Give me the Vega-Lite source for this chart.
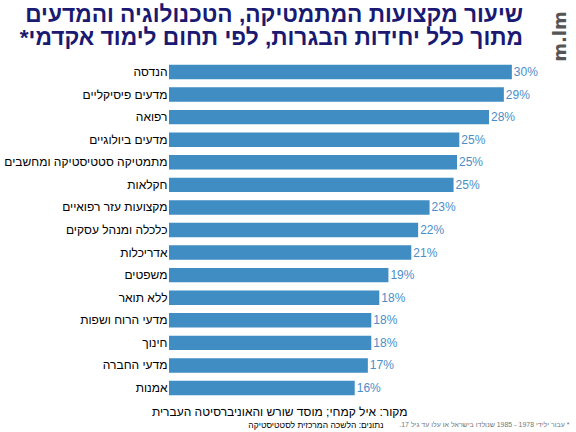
{
  "$schema": "https://vega.github.io/schema/vega-lite/v6.json",
  "autosize": "none",
  "padding": {"left": 169, "top": 60.7, "right": 7, "bottom": 32.7},
  "width": 400,
  "height": 338.6,
  "background": "white",
  "title": {
    "text": ["שיעור מקצועות המתמטיקה, הטכנולוגיה והמדעים", "מתוך כלל יחידות הבגרות, לפי תחום לימוד אקדמי*\u200f"],
    "anchor": "end",
    "frame": "group",
    "font": "Liberation Sans",
    "fontSize": 22.7,
    "fontWeight": "bold",
    "color": "#1a1a72",
    "lineHeight": 23.5,
    "dx": -46,
    "dy": 47,
    "offset": 8
  },
  "data": {
    "values": [
      {"field": "הנדסה", "pct": 0.300},
      {"field": "מדעים פיסיקליים", "pct": 0.293},
      {"field": "רפואה", "pct": 0.280},
      {"field": "מדעים ביולוגיים", "pct": 0.254},
      {"field": "מתמטיקה סטטיסטיקה ומחשבים", "pct": 0.252},
      {"field": "חקלאות", "pct": 0.249},
      {"field": "מקצועות עזר רפואיים", "pct": 0.228},
      {"field": "כלכלה ומנהל עסקים", "pct": 0.218},
      {"field": "אדריכלות", "pct": 0.212},
      {"field": "משפטים", "pct": 0.192},
      {"field": "ללא תואר", "pct": 0.184},
      {"field": "מדעי הרוח ושפות", "pct": 0.177},
      {"field": "חינוך", "pct": 0.177},
      {"field": "מדעי החברה", "pct": 0.174},
      {"field": "אמנות", "pct": 0.1625}
    ]
  },
  "encoding": {
    "y": {
      "field": "field",
      "type": "nominal",
      "sort": null,
      "scale": {"paddingInner": 0.36, "paddingOuter": 0.18}
    },
    "x": {
      "field": "pct",
      "type": "quantitative",
      "scale": {"domain": [0, 0.35], "nice": false, "zero": true}
    }
  },
  "layer": [
    {
      "mark": {"type": "bar", "color": "#3f8dc3"},
      "encoding": {
        "y": {
          "field": "field",
          "type": "nominal",
          "sort": null,
          "axis": {
            "orient": "left",
            "domain": false,
            "ticks": false,
            "grid": false,
            "labelPadding": 2,
            "labelFont": "Liberation Sans",
            "labelFontSize": 12,
            "labelColor": "#000000",
            "labelLimit": 300,
            "title": "\u200f* עבור ילידי 1978 - 1985 שנולדו בישראל או עלו עד גיל 17.\u200f",
            "titleAngle": 0,
            "titleAlign": "right",
            "titleBaseline": "alphabetic",
            "titleX": 400,
            "titleY": 365.3,
            "titleFont": "Liberation Sans",
            "titleFontSize": 7,
            "titleFontWeight": "normal",
            "titleColor": "#777777"
          }
        },
        "x": {
          "field": "pct",
          "type": "quantitative",
          "axis": {
            "orient": "bottom",
            "domain": false,
            "ticks": false,
            "labels": false,
            "grid": false,
            "title": "מקור: איל קמחי; מוסד שורש והאוניברסיטה העברית",
            "titleAlign": "right",
            "titleBaseline": "alphabetic",
            "titleX": 238,
            "titleY": 16.5,
            "titleFont": "Liberation Sans",
            "titleFontSize": 12,
            "titleFontWeight": "normal",
            "titleColor": "#000000"
          }
        }
      }
    },
    {
      "mark": {
        "type": "text",
        "align": "left",
        "baseline": "middle",
        "dx": 2,
        "font": "Liberation Sans",
        "fontSize": 12,
        "color": "#4a8ec8"
      },
      "encoding": {
        "text": {"field": "pct", "type": "quantitative", "format": ".0%"},
        "y": {
          "field": "field",
          "type": "nominal",
          "sort": null,
          "axis": {
            "orient": "right",
            "domain": false,
            "ticks": false,
            "labels": false,
            "grid": false,
            "title": "m.lm",
            "titleAngle": 270,
            "titleAlign": "center",
            "titleBaseline": "middle",
            "titleX": -9,
            "titleY": -24.7,
            "titleFont": "DejaVu Sans",
            "titleFontSize": 18,
            "titleFontWeight": "bold",
            "titleColor": "#555555"
          }
        },
        "x": {
          "field": "pct",
          "type": "quantitative",
          "axis": {
            "orient": "bottom",
            "domain": false,
            "ticks": false,
            "labels": false,
            "grid": false,
            "title": "נתונים: הלשכה המרכזית לסטטיסטיקה",
            "titleAlign": "right",
            "titleBaseline": "alphabetic",
            "titleX": 214,
            "titleY": 28,
            "titleFont": "Liberation Sans",
            "titleFontSize": 8.5,
            "titleFontWeight": "normal",
            "titleColor": "#000000"
          }
        }
      }
    }
  ],
  "resolve": {"axis": {"x": "independent", "y": "independent"}},
  "config": {"view": {"stroke": null}}
}
